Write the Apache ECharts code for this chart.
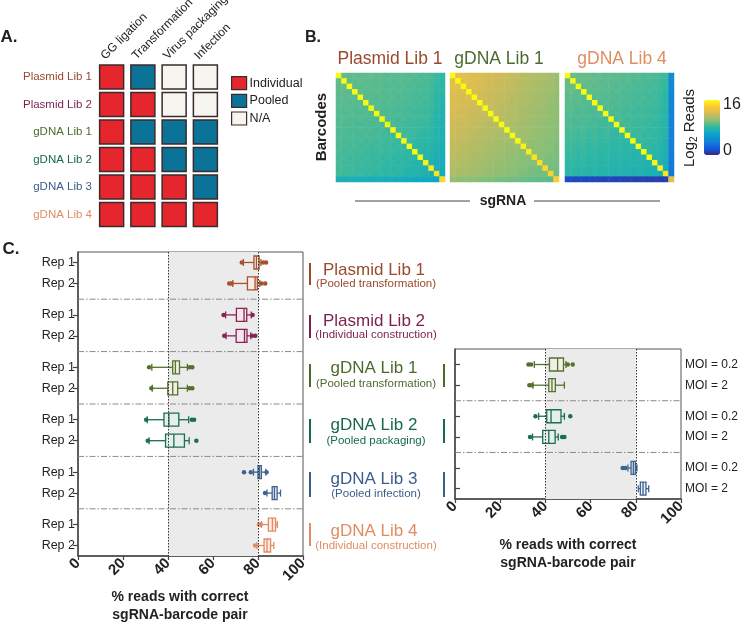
<!DOCTYPE html>
<html><head><meta charset="utf-8">
<script src="https://cdn.jsdelivr.net/npm/echarts@6/dist/echarts.min.js"></script>
<style>html,body{margin:0;padding:0;background:#fff}#c{width:744px;height:625px}</style>
</head><body><div id="c"></div>
<script>
// ================= DATA =================
const libraries = ['Plasmid Lib 1','Plasmid Lib 2','gDNA Lib 1','gDNA Lib 2','gDNA Lib 3','gDNA Lib 4'];
const libraryNotes = ['(Pooled transformation)','(Individual construction)','(Pooled transformation)','(Pooled packaging)','(Pooled infection)','(Individual construction)'];
const stages = ['GG ligation','Transformation','Virus packaging','Infection'];
const methodKinds = ['Individual','Pooled','N/A'];
const methodTable = [
  ['Individual','Pooled','N/A','N/A'],
  ['Individual','Individual','N/A','N/A'],
  ['Individual','Pooled','Pooled','Pooled'],
  ['Individual','Individual','Pooled','Pooled'],
  ['Individual','Individual','Individual','Pooled'],
  ['Individual','Individual','Individual','Individual']
];

const heatmapTitles = ['Plasmid Lib 1','gDNA Lib 1','gDNA Lib 4'];
const heatmapLibIndex = [0, 2, 5];
const colorbarMin = 0, colorbarMax = 16;

// log2 reads, rows = barcodes (top to bottom), cols = sgRNA (left to right)
const heatPlasmid1 = [
[16.0,9.3,9.1,9.2,9.0,9.1,9.2,9.0,9.1,8.9,9.0,8.9,9.0,8.8,8.9,8.7,8.8,8.6,8.3,8.0],
[9.2,16.0,9.1,9.0,9.2,9.0,9.1,8.9,9.0,9.0,8.8,8.9,8.8,8.9,8.7,8.8,8.6,8.5,8.2,7.9],
[9.1,9.2,16.0,9.1,9.0,9.1,8.9,9.0,8.9,8.8,8.9,8.8,8.9,8.7,8.8,8.6,8.7,8.4,8.1,7.8],
[9.0,9.1,9.0,16.0,9.1,8.9,9.0,9.1,8.8,8.9,8.8,8.9,8.7,8.8,8.6,8.7,8.5,8.4,8.0,7.9],
[9.1,9.0,9.1,8.9,16.0,9.0,8.9,8.8,9.0,8.8,8.9,8.7,8.8,8.7,8.6,8.5,8.6,8.3,8.0,7.7],
[8.9,9.0,8.8,9.0,8.9,16.0,9.0,8.9,8.8,8.9,8.7,8.8,8.6,8.7,8.5,8.6,8.4,8.3,7.9,7.6],
[9.0,8.9,9.0,8.8,8.9,8.8,16.0,8.9,8.8,8.7,8.8,8.6,8.7,8.5,8.6,8.4,8.5,8.2,7.8,7.6],
[8.9,8.8,8.9,8.9,8.8,8.9,8.7,16.0,8.8,8.7,8.6,8.7,8.5,8.6,8.4,8.5,8.3,8.2,7.8,7.5],
[8.8,8.9,8.8,8.7,8.9,8.7,8.8,8.6,16.0,8.7,8.6,8.5,8.6,8.4,8.5,8.3,8.4,8.1,7.7,7.5],
[8.9,8.7,8.8,8.8,8.6,8.8,8.6,8.7,8.5,16.0,8.6,8.5,8.4,8.5,8.3,8.4,8.2,8.0,7.7,7.4],
[8.8,8.8,8.7,8.6,8.8,8.6,8.7,8.5,8.6,8.4,16.0,8.5,8.4,8.3,8.4,8.2,8.1,8.0,7.6,7.4],
[8.7,8.8,8.6,8.7,8.5,8.7,8.5,8.6,8.4,8.5,8.3,16.0,8.4,8.3,8.2,8.1,8.0,7.9,7.6,7.3],
[8.8,8.6,8.7,8.5,8.6,8.4,8.6,8.4,8.5,8.3,8.4,8.2,16.0,8.2,8.1,8.0,7.9,7.8,7.5,7.3],
[8.6,8.7,8.5,8.6,8.4,8.5,8.3,8.5,8.3,8.4,8.2,8.3,8.1,16.0,8.0,7.9,7.8,7.7,7.4,7.2],
[8.7,8.5,8.6,8.4,8.5,8.3,8.4,8.2,8.4,8.2,8.3,8.1,8.2,8.0,16.0,7.8,7.7,7.6,7.3,7.1],
[8.5,8.6,8.4,8.5,8.3,8.4,8.2,8.3,8.1,8.2,8.0,8.1,7.9,8.0,7.8,16.0,7.6,7.5,7.2,7.0],
[8.6,8.4,8.5,8.3,8.4,8.2,8.3,8.1,8.2,8.0,8.1,7.9,8.0,7.8,7.7,7.6,15.6,7.4,7.1,6.9],
[8.4,8.5,8.3,8.4,8.2,8.3,8.1,8.2,8.0,8.1,7.9,8.0,7.8,7.7,7.6,7.5,7.4,15.4,7.0,6.8],
[8.5,8.3,8.4,8.2,8.3,8.1,8.2,8.0,8.1,7.9,8.0,7.8,7.7,7.6,7.5,7.4,7.3,7.1,15.0,6.7],
[7.2,7.1,7.2,7.0,7.1,7.0,6.9,7.0,6.9,6.8,6.9,6.8,6.7,6.8,6.6,6.7,6.5,6.4,6.3,14.6]
];
const heatGDNA1 = [
[16.0,12.9,12.8,12.6,12.5,12.4,12.2,12.1,12.0,11.9,11.8,11.6,11.6,11.4,11.3,11.2,11.1,11.0,10.8,10.6],
[12.8,16.0,12.7,12.6,12.4,12.3,12.2,12.0,11.9,11.9,11.7,11.6,11.4,11.4,11.2,11.1,11.0,10.9,10.7,10.5],
[12.7,12.7,16.0,12.5,12.4,12.2,12.1,12.0,11.8,11.7,11.7,11.5,11.4,11.2,11.2,11.0,10.9,10.8,10.7,10.5],
[12.6,12.5,12.5,16.0,12.3,12.2,12.0,11.9,11.8,11.7,11.5,11.5,11.3,11.2,11.0,11.0,10.8,10.7,10.6,10.4],
[12.5,12.4,12.3,12.3,16.0,12.1,12.0,11.8,11.7,11.6,11.5,11.3,11.3,11.1,11.0,10.9,10.8,10.6,10.5,10.4],
[12.4,12.3,12.2,12.1,12.1,16.0,11.9,11.8,11.6,11.5,11.4,11.3,11.1,11.1,10.9,10.8,10.7,10.6,10.4,10.3],
[12.3,12.2,12.1,12.0,11.9,11.9,16.0,11.7,11.6,11.4,11.3,11.2,11.1,10.9,10.9,10.7,10.6,10.5,10.4,10.2],
[12.2,12.1,12.0,11.9,11.8,11.7,11.7,16.0,11.5,11.4,11.2,11.2,11.0,10.9,10.8,10.7,10.5,10.5,10.3,10.2],
[12.1,12.0,11.9,11.8,11.7,11.6,11.5,11.5,16.0,11.3,11.2,11.1,11.0,10.8,10.7,10.6,10.5,10.4,10.3,10.1],
[12.0,11.9,11.8,11.7,11.6,11.5,11.4,11.3,11.3,16.0,11.1,11.0,10.9,10.8,10.6,10.6,10.4,10.3,10.2,10.1],
[11.9,11.8,11.7,11.6,11.5,11.4,11.3,11.2,11.1,11.1,16.0,10.9,10.8,10.7,10.6,10.5,10.4,10.2,10.2,10.0],
[11.8,11.7,11.6,11.5,11.4,11.3,11.2,11.1,11.0,10.9,10.9,16.0,10.7,10.6,10.5,10.4,10.3,10.2,10.1,10.0],
[11.7,11.6,11.5,11.4,11.3,11.2,11.1,11.0,10.9,10.8,10.7,10.7,16.0,10.6,10.4,10.4,10.2,10.1,10.0,9.9],
[11.6,11.5,11.4,11.3,11.2,11.1,11.0,10.9,10.8,10.7,10.6,10.5,10.5,15.6,10.4,10.3,10.2,10.0,10.0,9.8],
[11.5,11.4,11.3,11.2,11.1,11.0,10.9,10.8,10.7,10.6,10.5,10.4,10.3,10.3,15.4,10.2,10.1,10.0,9.9,9.8],
[11.4,11.3,11.2,11.1,11.0,10.9,10.8,10.7,10.6,10.5,10.4,10.3,10.2,10.1,10.1,15.0,10.0,9.9,9.8,9.7],
[11.3,11.2,11.1,11.0,10.9,10.8,10.7,10.6,10.5,10.4,10.3,10.2,10.1,10.0,9.9,9.9,14.8,9.8,9.7,9.6],
[11.2,11.1,11.0,10.9,10.8,10.7,10.6,10.5,10.4,10.3,10.2,10.1,10.0,9.9,9.8,9.7,9.7,14.6,9.6,9.5],
[11.1,11.0,10.9,10.8,10.7,10.6,10.5,10.4,10.3,10.2,10.1,10.0,9.9,9.8,9.7,9.6,9.5,9.5,14.4,9.5],
[10.4,10.3,10.3,10.2,10.1,10.0,9.9,9.9,9.8,9.7,9.6,9.6,9.5,9.4,9.3,9.3,9.2,9.1,9.0,14.2]
];
const heatGDNA4 = [
[16.0,9.4,9.3,9.2,9.3,9.1,9.2,9.0,9.1,9.0,8.9,9.0,8.8,8.9,8.7,8.8,8.6,8.5,8.3,4.6],
[9.3,16.0,9.2,9.3,9.1,9.2,9.0,9.1,8.9,9.0,8.8,8.9,8.7,8.8,8.6,8.7,8.5,8.4,8.2,4.5],
[9.2,9.3,16.0,9.1,9.2,9.0,9.1,8.9,9.0,8.8,8.9,8.7,8.8,8.6,8.7,8.5,8.6,8.3,8.1,4.5],
[9.1,9.2,9.0,16.0,9.0,9.1,8.9,9.0,8.8,8.9,8.7,8.8,8.6,8.7,8.5,8.6,8.4,8.3,8.0,4.4],
[9.0,9.1,9.0,8.9,16.0,8.9,9.0,8.8,8.9,8.7,8.8,8.6,8.7,8.5,8.6,8.4,8.5,8.2,8.0,4.4],
[9.0,8.9,9.0,8.8,8.9,16.0,8.8,8.9,8.7,8.8,8.6,8.7,8.5,8.6,8.4,8.5,8.3,8.2,7.9,4.3],
[8.9,9.0,8.8,8.9,8.7,8.8,16.0,8.7,8.8,8.6,8.7,8.5,8.6,8.4,8.5,8.3,8.4,8.1,7.9,4.3],
[8.8,8.9,8.7,8.8,8.7,8.6,8.7,16.0,8.6,8.7,8.5,8.6,8.4,8.5,8.3,8.4,8.2,8.1,7.8,4.2],
[8.8,8.7,8.8,8.6,8.7,8.5,8.6,8.5,16.0,8.5,8.6,8.4,8.5,8.3,8.4,8.2,8.3,8.0,7.8,4.2],
[8.7,8.8,8.6,8.7,8.5,8.6,8.4,8.5,8.4,16.0,8.4,8.5,8.3,8.4,8.2,8.3,8.1,8.0,7.7,4.1],
[8.6,8.7,8.5,8.6,8.4,8.5,8.3,8.4,8.3,8.2,16.0,8.3,8.4,8.2,8.3,8.1,8.2,7.9,7.7,4.1],
[8.5,8.6,8.4,8.5,8.3,8.4,8.2,8.3,8.2,8.1,8.2,16.0,8.2,8.3,8.1,8.2,8.0,7.9,7.6,4.0],
[8.4,8.5,8.3,8.4,8.2,8.3,8.1,8.2,8.1,8.0,8.1,8.0,16.0,8.1,8.2,8.0,8.1,7.8,7.5,4.0],
[8.3,8.4,8.2,8.3,8.1,8.2,8.0,8.1,8.0,7.9,8.0,7.9,7.8,16.0,8.0,8.1,7.9,7.7,7.4,3.9],
[8.2,8.3,8.1,8.2,8.0,8.1,7.9,8.0,7.9,7.8,7.9,7.8,7.7,7.8,16.0,7.9,7.8,7.6,7.3,3.8],
[8.1,8.2,8.0,8.1,7.9,8.0,7.8,7.9,7.8,7.7,7.8,7.7,7.6,7.7,7.6,16.0,7.7,7.5,7.2,3.8],
[8.0,8.1,7.9,8.0,7.8,7.9,7.7,7.8,7.7,7.6,7.7,7.6,7.5,7.6,7.5,7.4,15.8,7.4,7.1,3.7],
[7.9,8.0,7.8,7.9,7.7,7.8,7.6,7.7,7.6,7.5,7.6,7.5,7.4,7.5,7.4,7.3,7.2,15.6,7.0,3.6],
[7.8,7.9,7.7,7.8,7.6,7.7,7.5,7.6,7.5,7.4,7.5,7.4,7.3,7.4,7.3,7.2,7.1,6.9,15.2,3.5],
[1.4,1.3,1.4,1.2,1.3,1.2,1.2,1.1,1.2,1.0,1.1,1.0,1.0,0.9,1.0,0.9,0.9,0.8,0.9,12.6]
];

const repLabels = ['Rep 1','Rep 2'];
// % reads with correct pair: [low whisker, Q1, median, Q3, high whisker], per library x replicate
const repBoxes = [
  [73.5, 78.2, 79.3, 80.5, 81.3], [68.8, 75.3, 78.7, 79.7, 80.8],
  [65.6, 70.4, 73.8, 75.0, 77.0], [65.8, 70.3, 74.0, 75.1, 76.8],
  [32.8, 42.1, 43.3, 45.1, 48.6], [33.0, 39.9, 42.1, 44.3, 48.6],
  [30.8, 38.2, 40.4, 44.8, 49.2], [31.6, 38.9, 42.6, 47.3, 49.4],
  [78.0, 80.0, 80.7, 81.5, 83.5], [84.0, 86.3, 87.3, 88.5, 90.0],
  [81.5, 84.6, 86.4, 87.8, 88.6], [79.5, 82.7, 84.0, 85.6, 87.0]
];
const repOutliers = [
  [72.8, 82.3, 83.6], [67.2, 68.2, 81.6, 83.2],
  [64.7, 77.6], [65.0, 77.4, 78.8],
  [31.6, 49.6, 50.8], [32.6, 49.6, 50.8],
  [30.3, 50.6, 51.6], [31.0, 52.6],
  [73.8, 76.8, 83.8], [83.1],
  [80.4, 81.3], [78.7]
];
const moiLibraries = ['gDNA Lib 1','gDNA Lib 2','gDNA Lib 3'];
const moiLabels = ['MOI = 0.2','MOI = 2'];
const moiBoxes = [
  [35.1, 41.8, 45.4, 48.0, 49.1], [34.5, 41.5, 42.9, 44.4, 48.4],
  [37.0, 40.6, 42.5, 46.9, 48.4], [34.3, 38.8, 41.5, 44.3, 45.7],
  [76.5, 77.9, 78.9, 79.8, 80.5], [81.1, 82.0, 83.2, 84.5, 85.7]
];
const moiOutliers = [
  [32.5, 33.7, 49.9, 52.1], [32.9, 34.0],
  [35.6, 51.0], [33.2, 47.4, 48.4],
  [74.2, 75.4], []
];
const shadeRange = [40, 80];
const xAxisTitle = '% reads with correct\nsgRNA-barcode pair';

// ================= STYLE =================
const FONT = 'Liberation Sans';
const methodColors = {'Individual':'#e6262d','Pooled':'#0b7397','N/A':'#f6f5ef'};
const libColors = ['#9a4a2d','#7c1f4d','#4d6a2d','#17684f','#3b5d88','#e08d62'];
const boxColors = ['#a5512f','#8a2456','#56712f','#1b6d57','#3f6391','#e6895c'];
const boxFills = ['#f7ece7','#f4e6ec','#eef2e6','#e5f0ec','#e7edf4','#fbefe8'];
const parula = ['#352a87','#0f5cdd','#1481d6','#06a4ca','#2eb7a4','#87bf77','#d1bb59','#fec832','#f9fb0e'];

// slot structure of the two box panels (category axis positions)
const leftSlots = 59, leftGroup = 10, leftRepOffset = [2, 6], leftSepOffset = 9;
const rightSlots = 30, rightGroup = 10, rightRepOffset = [3, 7], rightSepOffset = 10;

// ================= BUILD =================
const leftCats = Array.from({length: leftSlots}, () => '');
libraries.forEach((_, g) => repLabels.forEach((lab, r) => { leftCats[g*leftGroup + leftRepOffset[r]] = lab; }));
const rightCats = Array.from({length: rightSlots}, () => '');
moiLibraries.forEach((_, g) => moiLabels.forEach((lab, r) => { rightCats[g*rightGroup + rightRepOffset[r]] = lab; }));

const leftBoxData = [], leftOutData = [], rightBoxData = [], rightOutData = [];
libraries.forEach((_, g) => repLabels.forEach((_, r) => {
  const slot = g*leftGroup + leftRepOffset[r];
  leftBoxData.push([slot].concat(repBoxes[g*2+r], [g]));
  repOutliers[g*2+r].forEach(v => leftOutData.push([v, slot, g]));
}));
moiLibraries.forEach((name, g) => moiLabels.forEach((_, r) => {
  const slot = g*rightGroup + rightRepOffset[r];
  const lib = libraries.indexOf(name);
  rightBoxData.push([slot].concat(moiBoxes[g*2+r], [lib]));
  moiOutliers[g*2+r].forEach(v => rightOutData.push([v, slot, lib]));
}));
const leftSeps = [], rightSeps = [];
for (let g = 0; g < libraries.length - 1; g++) leftSeps.push([0, g*leftGroup + leftSepOffset, 100]);
for (let g = 0; g < moiLibraries.length - 1; g++) rightSeps.push([0, g*rightGroup + rightSepOffset, 100]);

function heatData(m) { const d = []; m.forEach((row, r) => row.forEach((v, c) => d.push([c, r, v]))); return d; }
const heatMatrices = [heatPlasmid1, heatGDNA1, heatGDNA4];
const idx20 = Array.from({length: 20}, (_, i) => String(i + 1));

function renderBox(params, api) {
  const slot = api.value(0);
  const lib = api.value(6);
  const col = boxColors[lib], fill = boxFills[lib];
  const p = [1,2,3,4,5].map(i => api.coord([api.value(i), slot]));
  const y = p[0][1], hb = 6.5, hc = 3.5;
  const ls = {stroke: col, lineWidth: 1.3};
  return {type: 'group', children: [
    {type:'line', shape:{x1:p[0][0], y1:y, x2:p[1][0], y2:y}, style: ls},
    {type:'line', shape:{x1:p[3][0], y1:y, x2:p[4][0], y2:y}, style: ls},
    {type:'line', shape:{x1:p[0][0], y1:y-hc, x2:p[0][0], y2:y+hc}, style: ls},
    {type:'line', shape:{x1:p[4][0], y1:y-hc, x2:p[4][0], y2:y+hc}, style: ls},
    {type:'rect', shape:{x:p[1][0], y:y-hb, width:p[3][0]-p[1][0], height:2*hb}, style:{fill: fill, stroke: col, lineWidth: 1.3}},
    {type:'line', shape:{x1:p[2][0], y1:y-hb, x2:p[2][0], y2:y+hb}, style: ls}
  ]};
}
function renderSep(params, api) {
  const a = api.coord([api.value(0), api.value(1)]);
  const b = api.coord([api.value(2), api.value(1)]);
  return {type:'line', shape:{x1:a[0], y1:a[1], x2:b[0], y2:b[1]}, style:{stroke:'#8a8a8a', lineWidth:1, lineDash:[6,2,1.5,2]}};
}

const grids = [
  {left: 96, top: 63.25, width: 125, height: 165},
  {left: 336, top: 73, width: 109, height: 109},
  {left: 450, top: 73, width: 109, height: 109},
  {left: 565, top: 73, width: 109, height: 109},
  {left: 78, top: 252, width: 225, height: 304, show: true, borderColor: '#555', borderWidth: 1},
  {left: 455, top: 349, width: 226, height: 150, show: true, borderColor: '#555', borderWidth: 1}
];

const valueX = (gi) => ({
  type: 'value', gridIndex: gi, min: 0, max: 100, interval: 20,
  axisLine: {show: true, lineStyle: {color: '#444', width: 1.5}},
  axisTick: {show: true, length: 4, lineStyle: {color: '#444', width: 1.2}},
  axisLabel: {rotate: 45, fontSize: 15, fontWeight: 'bold', color: '#222', margin: 5, fontFamily: FONT},
  splitLine: {show: false}
});
const catY = (gi, cats, pos, fs, margin) => ({
  type: 'category', gridIndex: gi, data: cats, inverse: true, boundaryGap: false, position: pos,
  axisLine: {show: true, lineStyle: {color: '#444', width: 1.5}},
  axisTick: {show: true, length: 5, interval: (i, v) => v !== '', lineStyle: {color: '#444', width: 1.2}},
  axisLabel: {interval: 0, fontSize: fs, color: '#222', margin: margin, fontFamily: FONT},
  splitLine: {show: false}
});

const xAxes = [
  {type: 'category', gridIndex: 0, data: stages, position: 'top', show: false},
  {type: 'category', gridIndex: 1, data: idx20, show: false},
  {type: 'category', gridIndex: 2, data: idx20, show: false},
  {type: 'category', gridIndex: 3, data: idx20, show: false},
  valueX(4), valueX(5)
];
const yAxes = [
  {type: 'category', gridIndex: 0, data: libraries, inverse: true,
   axisLine: {show: false}, axisTick: {show: false},
   axisLabel: {fontSize: 11.5, margin: 4, fontFamily: FONT, color: (v, i) => libColors[i]}},
  {type: 'category', gridIndex: 1, data: idx20, inverse: true, show: false},
  {type: 'category', gridIndex: 2, data: idx20, inverse: true, show: false},
  {type: 'category', gridIndex: 3, data: idx20, inverse: true, show: false},
  catY(4, leftCats, 'left', 12.5, 3),
  catY(5, rightCats, 'right', 12, 4)
];

const series = [];
methodKinds.forEach(kind => {
  const d = [];
  methodTable.forEach((row, r) => row.forEach((k, c) => { if (k === kind) d.push([c, r]); }));
  series.push({name: kind, type: 'scatter', xAxisIndex: 0, yAxisIndex: 0, data: d,
    symbol: 'rect', symbolSize: [24, 24], silent: true,
    itemStyle: {color: methodColors[kind], borderColor: '#3b2b2b', borderWidth: 1.5, opacity: 1}});
});
heatMatrices.forEach((m, i) => series.push({
  type: 'heatmap', xAxisIndex: i + 1, yAxisIndex: i + 1, data: heatData(m), silent: true,
  itemStyle: {borderWidth: 0}, progressive: 0
}));
function boxPanel(ai, seps, boxes, outs) {
  series.push({type: 'custom', xAxisIndex: ai, yAxisIndex: ai, data: seps, renderItem: renderSep,
    encode: {x: [0, 2], y: 1}, silent: true, z: 1,
    markArea: {silent: true, itemStyle: {color: '#ebebeb'}, data: [[{xAxis: shadeRange[0]}, {xAxis: shadeRange[1]}]]},
    markLine: {silent: true, symbol: 'none', label: {show: false},
      lineStyle: {color: '#333', type: [1.5, 1.5], width: 1},
      data: [{xAxis: shadeRange[0]}, {xAxis: shadeRange[1]}]}});
  series.push({type: 'custom', xAxisIndex: ai, yAxisIndex: ai, data: boxes, renderItem: renderBox,
    encode: {x: [1,2,3,4,5], y: 0}, silent: true, z: 3});
  series.push({type: 'scatter', xAxisIndex: ai, yAxisIndex: ai, data: outs, encode: {x: 0, y: 1},
    symbolSize: 4.5, silent: true, z: 4,
    itemStyle: {color: p => boxColors[p.data[2]], opacity: 1}});
}
boxPanel(4, leftSeps, leftBoxData, leftOutData);
boxPanel(5, rightSeps, rightBoxData, rightOutData);

const chart = echarts.init(document.getElementById('c'), null, {renderer: 'canvas'});
chart.setOption({
  animation: false,
  backgroundColor: '#fff',
  textStyle: {fontFamily: FONT},
  grid: grids,
  xAxis: xAxes,
  yAxis: yAxes,
  legend: {data: methodKinds, orient: 'vertical', left: 231, top: 76, padding: 0,
    itemWidth: 15, itemHeight: 13, itemGap: 3.5, icon: 'rect', selectedMode: false,
    itemStyle: {borderColor: '#3b2b2b', borderWidth: 1.2},
    textStyle: {fontSize: 12.5, color: '#222', fontFamily: FONT, padding: [0, 0, 0, -2]}},
  visualMap: {type: 'continuous', min: colorbarMin, max: colorbarMax, seriesIndex: [3, 4, 5],
    inRange: {color: parula}, orient: 'vertical', left: 704, top: 100, itemWidth: 16, itemHeight: 55,
    calculable: false, padding: 0, hoverLink: false, textStyle: {color: 'transparent'}},
  series: series
});

// ================= TEXT / DECORATION =================
const T = (x, y, text, opt, extra) => Object.assign({type: 'text', x, y, silent: true,
  style: Object.assign({text, fill: '#222', fontFamily: FONT, fontSize: 12, align: 'left', verticalAlign: 'middle'}, opt)}, extra || {});
const L = (x1, y1, x2, y2, color, w) => ({type: 'line', silent: true, shape: {x1, y1, x2, y2}, style: {stroke: color, lineWidth: w}});

const gfx = [];
// stage headers, rotated 45 degrees, anchored just above each column of squares
stages.forEach((s, c) => {
  const p = chart.convertToPixel({gridIndex: 0}, [c, 0]);
  gfx.push(T(p[0] - 4.5, p[1] - 15, s, {fontSize: 12, align: 'left', verticalAlign: 'bottom'}, {rotation: Math.PI / 4}));
});
gfx.push(T(9, 37, 'A.', {fontSize: 17, fontWeight: 'bold', align: 'center'}));
gfx.push(T(313, 38, 'B.', {fontSize: 16, fontWeight: 'bold', align: 'center'}));
gfx.push(T(11, 249, 'C.', {fontSize: 17, fontWeight: 'bold', align: 'center'}));
const heatTitleX = [390, 499, 622];
heatmapTitles.forEach((t, i) => gfx.push(T(heatTitleX[i], 59, t, {fontSize: 17.5, align: 'center', fill: libColors[heatmapLibIndex[i]]})));
gfx.push(T(322, 127, 'Barcodes', {fontSize: 15, fontWeight: 'bold', align: 'center'}, {rotation: Math.PI / 2}));
gfx.push(T(503, 201, 'sgRNA', {fontSize: 14, fontWeight: 'bold', align: 'center'}));
gfx.push(L(355, 201, 470, 201, '#444', 1));
gfx.push(L(534, 201, 660, 201, '#444', 1));
gfx.push(T(690, 128, 'Log{s|2} Reads', {fontSize: 15, align: 'center',
  rich: {s: {fontSize: 10, fontFamily: FONT, fill: '#222', verticalAlign: 'bottom', padding: [9, 0, 0, 0]}}}, {rotation: Math.PI / 2}));
gfx.push(T(723, 105, String(colorbarMax), {fontSize: 16}));
gfx.push(T(723, 151, String(colorbarMin), {fontSize: 16}));

const libTitleY = [270, 321, 368, 425, 479, 531];
const libNoteY = [284, 335, 384, 441, 494, 546];
const barY = [[263, 285], [315, 338], [364, 387], [419, 443], [472, 497], [523, 546]];
libraries.forEach((name, g) => {
  gfx.push(T(374, libTitleY[g], name, {fontSize: 17, align: 'center', fill: libColors[g]}));
  gfx.push(T(376, libNoteY[g], libraryNotes[g], {fontSize: 11.5, align: 'center', fill: libColors[g]}));
  gfx.push(L(310, barY[g][0], 310, barY[g][1], libColors[g], 2));
  if (moiLibraries.indexOf(name) >= 0) gfx.push(L(444, barY[g][0], 444, barY[g][1], libColors[g], 2));
});
const [xt1, xt2] = xAxisTitle.split('\n');
gfx.push(T(180, 597, xt1, {fontSize: 14, fontWeight: 'bold', align: 'center'}));
gfx.push(T(180, 615, xt2, {fontSize: 14, fontWeight: 'bold', align: 'center'}));
gfx.push(T(568, 545, xt1, {fontSize: 14, fontWeight: 'bold', align: 'center'}));
gfx.push(T(568, 563, xt2, {fontSize: 14, fontWeight: 'bold', align: 'center'}));

chart.setOption({graphic: {elements: gfx}});
</script></body></html>
